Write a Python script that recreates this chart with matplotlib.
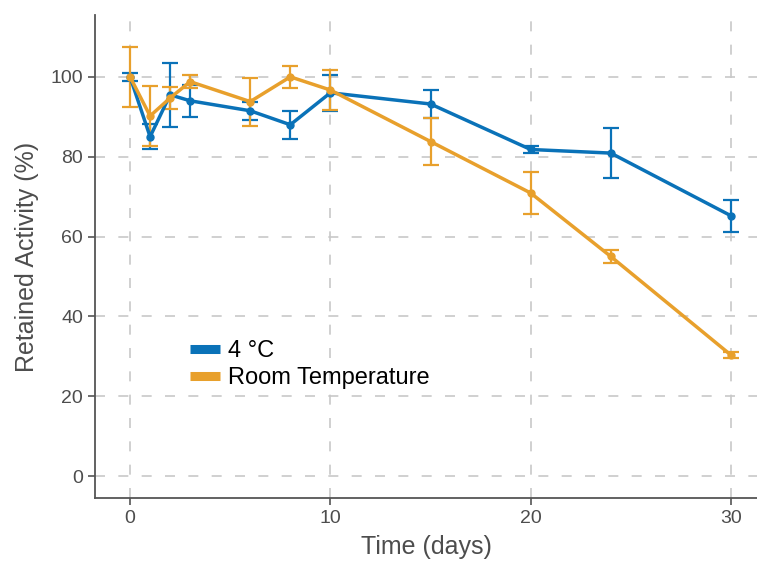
import matplotlib
matplotlib.use("Agg")
import matplotlib.pyplot as plt
from matplotlib.lines import Line2D

# Data
days = [0, 1, 2, 3, 6, 8, 10, 15, 20, 24, 30]

cold_mean = [100, 85, 95.5, 94, 91.5, 88, 96, 93.2, 81.8, 80.9, 65.2]
cold_err = [1, 3.2, 8, 4, 2.2, 3.5, 4.5, 3.5, 0.8, 6.3, 4]

room_mean = [100, 90.2, 94.7, 98.8, 93.8, 100, 96.7, 83.8, 70.9, 55, 30.3]
room_err = [7.5, 7.5, 2.7, 1.7, 6, 2.8, 5, 5.8, 5.2, 1.7, 0.8]

labels = ["4 \u00b0C", "Room Temperature"]
colors = ["#0A72B8", "#E8A02C"]

plt.rcParams['font.family'] = ['Liberation Sans', 'DejaVu Sans']

fig = plt.figure(figsize=(7.57, 5.67), dpi=100)
ax = fig.add_axes([0.1255, 0.1217, 0.8745, 0.8519])

for mean, err, col, lab in [(cold_mean, cold_err, colors[0], labels[0]),
                            (room_mean, room_err, colors[1], labels[1])]:
    ax.errorbar(days, mean, yerr=err, color=col, lw=2.5, marker='o', ms=5,
                elinewidth=1.6, capsize=5.5, capthick=1.6, label=lab, zorder=3)

ax.set_xlim(-1.75, 31.3)
ax.set_ylim(-5.5, 115.5)
ax.set_xticks([0, 10, 20, 30])
ax.set_yticks([0, 20, 40, 60, 80, 100])

ax.grid(True, color='#c8c8c8', linestyle=(0, (6, 8)), linewidth=1.2, zorder=0)
ax.set_axisbelow(True)

for s in ['top', 'right']:
    ax.spines[s].set_visible(False)
for s in ['left', 'bottom']:
    ax.spines[s].set_color('#555555')
    ax.spines[s].set_linewidth(1.3)

ax.tick_params(axis='both', colors='#555555', labelcolor='#4d4d4d',
               labelsize=14, length=5, width=1.2)

ax.set_xlabel('Time (days)', fontsize=18, color='#4d4d4d', labelpad=6)
ax.set_ylabel('Retained Activity (%)', fontsize=18, color='#4d4d4d', labelpad=8)

# legend with plain colour bars
handles = [Line2D([0], [0], color=c, lw=6.5, solid_capstyle='butt') for c in colors]
ax.legend(handles, labels, loc='upper left', bbox_to_anchor=(0.1295, 0.347),
          frameon=False, fontsize=17, handlelength=1.27, handletextpad=0.34,
          labelspacing=0.235, borderaxespad=0)

fig.savefig('out.png', dpi=100)
